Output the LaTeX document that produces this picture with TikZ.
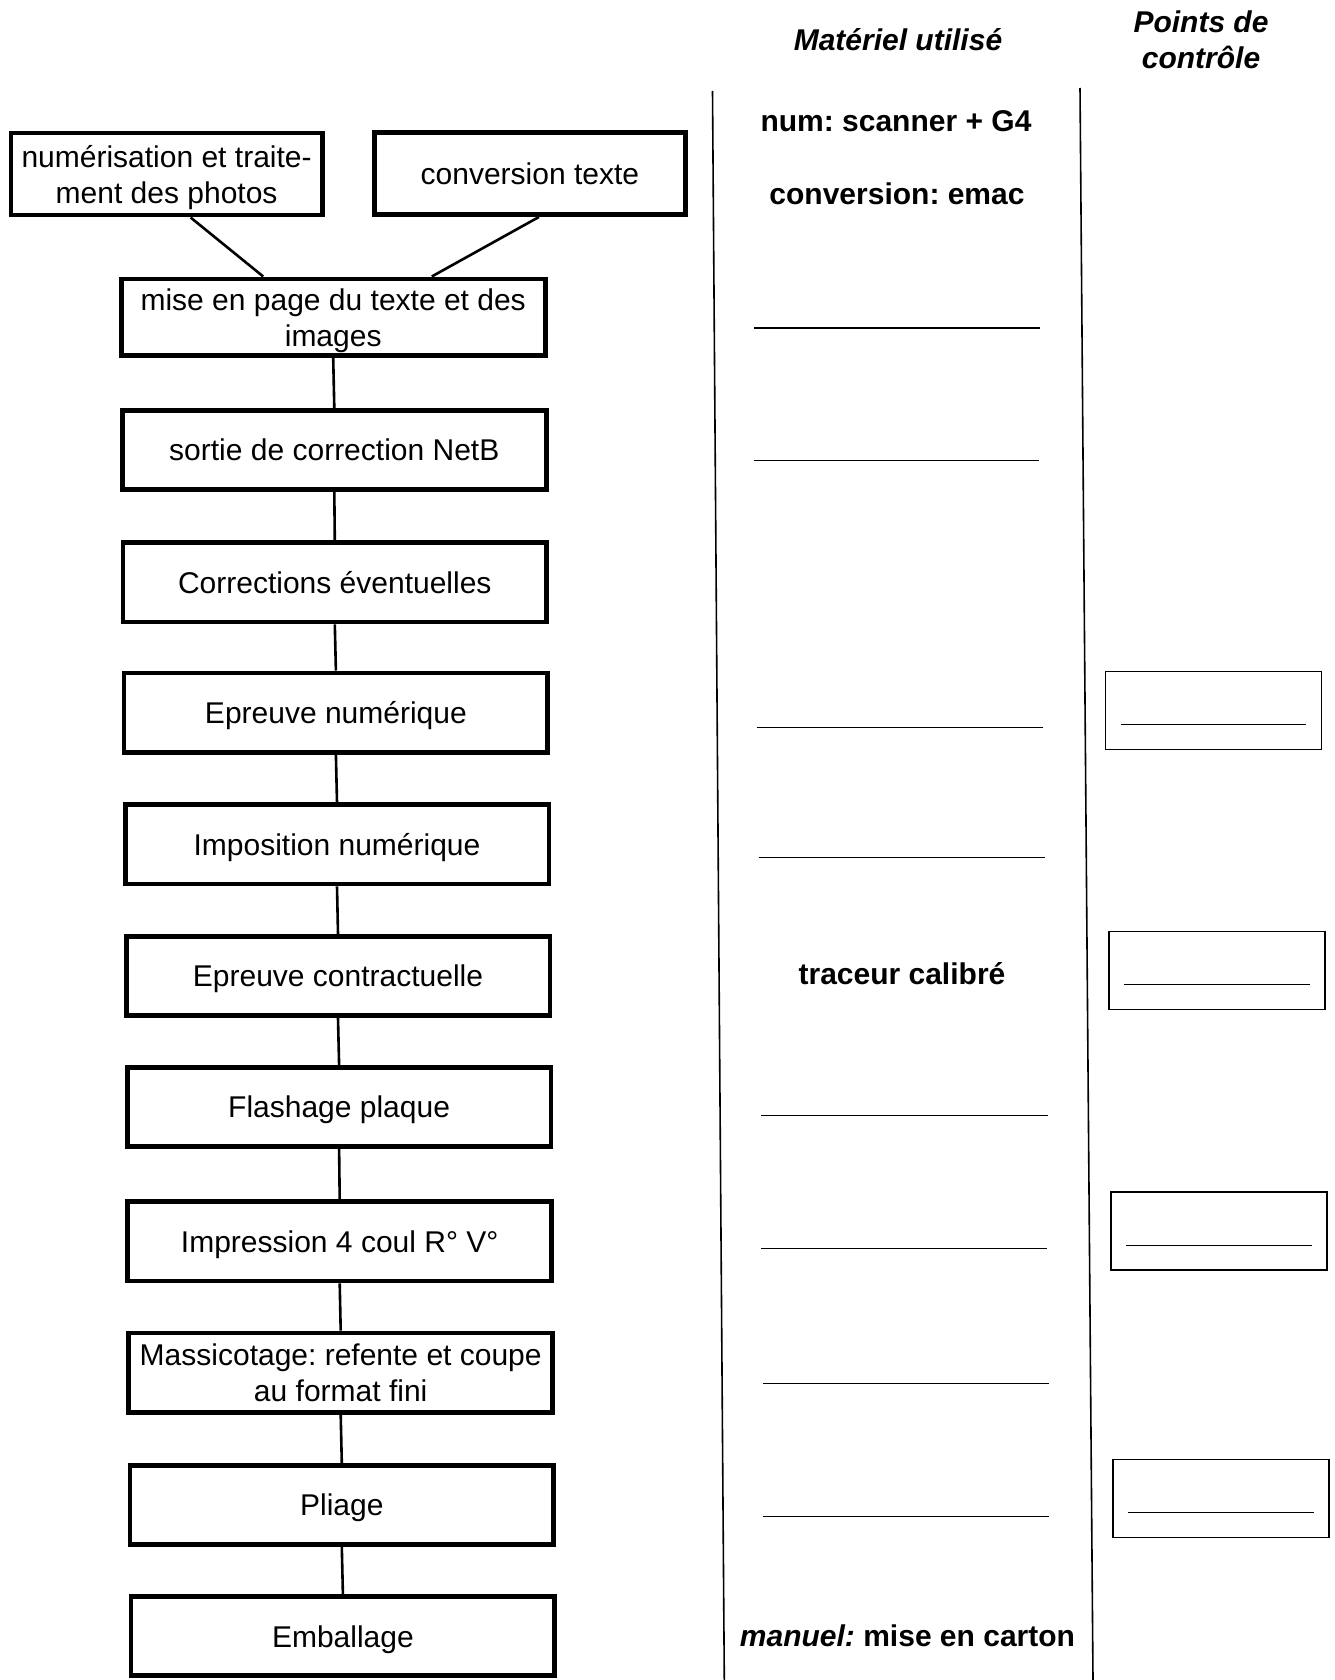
\documentclass[tikz,border=0pt]{standalone}
\usepackage{fontspec}
\setmainfont{Liberation Sans}
\usetikzlibrary{calc}
\frenchspacing
\begin{document}
\frenchspacing
\begin{tikzpicture}[x=0.5pt,y=-0.5pt,
  stage/.style={draw, line width=2.4pt, minimum width=211.9pt, minimum height=39.6pt, align=center, inner sep=2pt, text depth=0pt, font=\fontsize{15}{18}\selectfont},
  link/.style={line width=1.3pt},
  col/.style={line width=0.8pt},
  rule/.style={line width=0.7pt},
  ctrl/.style={draw, line width=0.8pt, minimum width=108pt, minimum height=39pt, inner sep=0pt},
  lbl/.style={font=\fontsize{15}{18}\selectfont\bfseries, align=center}]
\useasboundingbox (0,0) rectangle (1334,1680);

% left column stages
\node[stage, minimum width=155.6pt, minimum height=41pt] (b1) at (166.6,174.1) {numérisation et traite-\\ment des photos};
\node[stage, minimum width=155.6pt, minimum height=41pt] (b2) at (529.9,173.6) {conversion texte};
\node[stage, minimum height=38.3pt] (b3) at (333.2,317.2) {mise en page du texte et des\\images};
\node[stage] (b4) at (334.3,450) {sortie de correction NetB};
\node[stage] (b5) at (334.8,582.4) {Corrections éventuelles};
\node[stage] (b6) at (335.9,712.5) {Epreuve numérique};
\node[stage] (b7) at (337,844.3) {Imposition numérique};
\node[stage] (b8) at (338,976.1) {Epreuve contractuelle};
\node[stage] (b9) at (339.1,1106.9) {Flashage plaque};
\node[stage] (b10) at (339.7,1241.3) {Impression 4 coul R° V°};
\node[stage] (b11) at (340.7,1372.6) {Massicotage: refente et coupe\\au format fini};
\node[stage] (b12) at (341.8,1505) {Pliage};
\node[stage] (b13) at (342.9,1636.2) {Emballage};

% connectors
\draw[link] ([xshift=12pt]b1.south) -- ([xshift=-35pt]b3.north);
\draw[link] ([xshift=4.5pt]b2.south) -- ([xshift=49.3pt]b3.north);
\foreach \a/\b in {b3/b4,b4/b5,b5/b6,b6/b7,b7/b8,b8/b9,b9/b10,b10/b11,b11/b12,b12/b13}
  \draw[link] (\a.south) -- (\b.north);

% column separators
\draw[col] (712.5,91) -- (724.3,1680);
\draw[col] (1080,88) -- (1093,1680);

% headers
\node[lbl, font=\fontsize{15}{18}\selectfont\bfseries\itshape] (h1) at (898,40) {Matériel utilisé};
\node[lbl, font=\fontsize{15}{18}\selectfont\bfseries\itshape] (h2) at (1201,40) {Points de\\contrôle};

% middle column texts
\node[lbl] (m1) at (896,121) {num: scanner + G4};
\node[lbl] (m2) at (897,194) {conversion: emac};
\node[lbl] (m3) at (902,974) {traceur calibré};
\node[lbl] (m4) at (907.5,1636) {\textit{manuel:} mise en carton};

% middle column blank rules
\draw[rule] (754.3,327.9) -- (1040.4,327.9);
\draw[rule] (754.3,460.7) -- (1039.4,460.7);
\draw[rule] (756.5,727.5) -- (1042.6,727.5);
\draw[rule] (758.6,857.2) -- (1044.7,857.2);
\draw[rule] (760.8,1115.4) -- (1047.9,1115.4);
\draw[rule] (760.8,1248.3) -- (1046.9,1248.3);
\draw[rule] (762.9,1383.3) -- (1049,1383.3);
\draw[rule] (762.9,1516.2) -- (1049,1516.2);

% control point boxes
\node[ctrl] (c1) at (1213.5,710.5) {};
\node[ctrl] (c2) at (1216.7,970.3) {};
\node[ctrl] (c3) at (1218.9,1231.2) {};
\node[ctrl] (c4) at (1221,1498.5) {};
\foreach \c in {c1,c2,c3,c4}
  \draw[rule] ($(\c.west)+(16,14)$) -- ($(\c.east)+(-16,14)$);
\end{tikzpicture}
\end{document}
